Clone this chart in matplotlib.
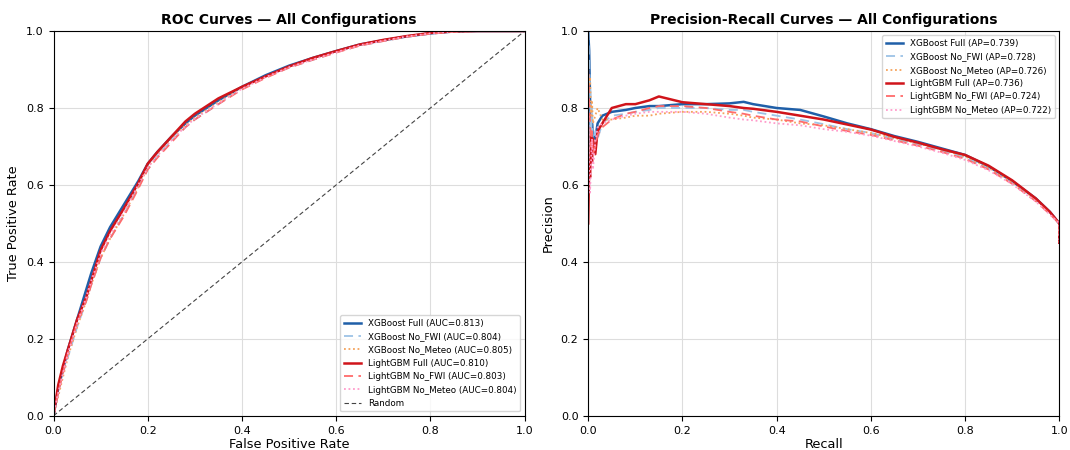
import matplotlib
matplotlib.use('Agg')
import matplotlib.pyplot as plt

# ROC curves
roc_fpr = [0, 0.01, 0.02, 0.03, 0.05, 0.07, 0.08, 0.1, 0.12, 0.15, 0.18, 0.2, 0.22,
           0.25, 0.28, 0.3, 0.35, 0.4, 0.45, 0.5, 0.55, 0.6, 0.65, 0.7, 0.75, 0.8,
           0.85, 0.9, 1.0]
roc_xgb_full = [0, 0.07, 0.12, 0.17, 0.25, 0.33, 0.37, 0.44, 0.49, 0.55, 0.61, 0.655, 0.685,
                0.725, 0.76, 0.78, 0.82, 0.855, 0.885, 0.91, 0.93, 0.948, 0.965, 0.976,
                0.986, 0.994, 0.999, 1.0, 1.0]
roc_xgb_nofwi = [0, 0.06, 0.11, 0.15, 0.23, 0.30, 0.34, 0.41, 0.46, 0.525, 0.595, 0.64, 0.675,
                 0.715, 0.75, 0.77, 0.81, 0.85, 0.88, 0.905, 0.925, 0.945, 0.962, 0.974,
                 0.985, 0.993, 0.998, 1.0, 1.0]
roc_xgb_nometeo = [0, 0.05, 0.10, 0.15, 0.23, 0.30, 0.34, 0.41, 0.46, 0.525, 0.595, 0.645, 0.68,
                   0.72, 0.755, 0.775, 0.815, 0.852, 0.882, 0.907, 0.927, 0.946, 0.963, 0.975,
                   0.986, 0.994, 0.999, 1.0, 1.0]
roc_lgb_full = [0, 0.08, 0.13, 0.17, 0.25, 0.31, 0.35, 0.43, 0.48, 0.54, 0.605, 0.655, 0.685,
                0.725, 0.765, 0.785, 0.825, 0.855, 0.882, 0.908, 0.93, 0.948, 0.965, 0.977,
                0.987, 0.995, 0.999, 1.0, 1.0]
roc_lgb_nofwi = [0, 0.06, 0.11, 0.16, 0.24, 0.30, 0.34, 0.41, 0.46, 0.52, 0.59, 0.64, 0.67,
                 0.71, 0.75, 0.77, 0.81, 0.848, 0.878, 0.905, 0.925, 0.944, 0.962, 0.974,
                 0.985, 0.993, 0.998, 1.0, 1.0]
roc_lgb_nometeo = [0, 0.06, 0.11, 0.16, 0.24, 0.31, 0.35, 0.42, 0.47, 0.53, 0.60, 0.645, 0.675,
                   0.715, 0.752, 0.772, 0.812, 0.85, 0.88, 0.906, 0.926, 0.945, 0.963, 0.975,
                   0.986, 0.994, 0.999, 1.0, 1.0]

# Precision-recall curves
pr_recall = [0, 0.002, 0.004, 0.006, 0.008, 0.01, 0.015, 0.02, 0.03, 0.05, 0.08, 0.1, 0.13,
             0.15, 0.2, 0.25, 0.3, 0.33, 0.35, 0.4, 0.45, 0.5, 0.55, 0.6, 0.65, 0.7, 0.75,
             0.8, 0.85, 0.9, 0.95, 0.98, 1.0, 1.0]
pr_xgb_full = [1.0, 0.95, 0.82, 0.70, 0.76, 0.73, 0.72, 0.76, 0.78, 0.79, 0.795, 0.80, 0.805,
               0.805, 0.81, 0.81, 0.812, 0.816, 0.81, 0.80, 0.795, 0.778, 0.76, 0.745, 0.727,
               0.712, 0.695, 0.678, 0.648, 0.61, 0.565, 0.53, 0.50, 0.45]
pr_xgb_nofwi = [1.0, 0.92, 0.85, 0.72, 0.80, 0.70, 0.74, 0.72, 0.76, 0.78, 0.785, 0.79, 0.795,
                0.80, 0.80, 0.80, 0.795, 0.795, 0.79, 0.78, 0.77, 0.758, 0.745, 0.735, 0.72,
                0.706, 0.69, 0.672, 0.642, 0.605, 0.56, 0.525, 0.50, 0.45]
pr_xgb_nometeo = [0.9, 0.85, 0.88, 0.78, 0.82, 0.76, 0.78, 0.80, 0.77, 0.77, 0.775, 0.78, 0.78,
                  0.785, 0.79, 0.79, 0.785, 0.78, 0.775, 0.77, 0.76, 0.755, 0.745, 0.735, 0.722,
                  0.708, 0.692, 0.674, 0.645, 0.607, 0.562, 0.527, 0.50, 0.45]
pr_lgb_full = [0.5, 0.65, 0.62, 0.73, 0.66, 0.72, 0.68, 0.74, 0.76, 0.80, 0.81, 0.81, 0.82,
               0.83, 0.815, 0.81, 0.805, 0.80, 0.798, 0.79, 0.78, 0.77, 0.757, 0.744, 0.725,
               0.71, 0.693, 0.678, 0.65, 0.612, 0.565, 0.53, 0.50, 0.45]
pr_lgb_nofwi = [0.9, 0.82, 0.76, 0.70, 0.74, 0.68, 0.70, 0.73, 0.75, 0.77, 0.785, 0.79, 0.80,
                0.805, 0.805, 0.80, 0.79, 0.785, 0.78, 0.77, 0.765, 0.752, 0.74, 0.73, 0.716,
                0.702, 0.686, 0.668, 0.64, 0.603, 0.558, 0.524, 0.50, 0.45]
pr_lgb_nometeo = [0.85, 0.62, 0.58, 0.66, 0.72, 0.64, 0.71, 0.75, 0.76, 0.77, 0.78, 0.785, 0.79,
                  0.79, 0.79, 0.785, 0.775, 0.77, 0.768, 0.76, 0.755, 0.745, 0.738, 0.728, 0.714,
                  0.70, 0.684, 0.665, 0.638, 0.602, 0.557, 0.523, 0.50, 0.45]

roc_auc = [0.813, 0.804, 0.805, 0.810, 0.803, 0.804]
pr_ap = [0.739, 0.728, 0.726, 0.736, 0.724, 0.722]

names = ['XGBoost Full', 'XGBoost No_FWI', 'XGBoost No_Meteo',
         'LightGBM Full', 'LightGBM No_FWI', 'LightGBM No_Meteo']
colors = ['#1f5fa8', '#9dc3e6', '#f5a35c', '#d0141a', '#ff6b6b', '#ff9ccb']
styles = ['-', (0, (5, 3)), (0, (1, 1.5)), '-', (0, (5, 3)), (0, (1, 1.5))]
widths = [1.8, 1.3, 1.3, 1.8, 1.3, 1.3]

roc_tpr = [roc_xgb_full, roc_xgb_nofwi, roc_xgb_nometeo, roc_lgb_full, roc_lgb_nofwi, roc_lgb_nometeo]
pr_prec = [pr_xgb_full, pr_xgb_nofwi, pr_xgb_nometeo, pr_lgb_full, pr_lgb_nofwi, pr_lgb_nometeo]

fig, (ax1, ax2) = plt.subplots(1, 2, figsize=(10.7, 4.5), dpi=100)
fig.subplots_adjust(left=0.05, right=0.99, bottom=0.076, top=0.931, wspace=0.135)

for i in range(len(names)):
  ax1.plot(roc_fpr, roc_tpr[i], color=colors[i], ls=styles[i], lw=widths[i],
           label='%s (AUC=%.3f)' % (names[i], roc_auc[i]))
ax1.plot([0, 1], [0, 1], color='#444444', ls=(0, (4, 2.5)), lw=0.8, label='Random')
ax1.set_xlim(0, 1)
ax1.set_ylim(0, 1)
ax1.set_xlabel('False Positive Rate', fontsize=9.3, labelpad=2)
ax1.set_ylabel('True Positive Rate', fontsize=9.3, labelpad=4)
ax1.set_title('ROC Curves — All Configurations', fontsize=10, fontweight='bold', pad=5)
ax1.legend(loc='lower right', fontsize=6.3)

for i in range(len(names)):
  ax2.plot(pr_recall, pr_prec[i], color=colors[i], ls=styles[i], lw=widths[i],
           label='%s (AP=%.3f)' % (names[i], pr_ap[i]))
ax2.set_xlim(0, 1)
ax2.set_ylim(0, 1)
ax2.set_xlabel('Recall', fontsize=9.3, labelpad=2)
ax2.set_ylabel('Precision', fontsize=9.3, labelpad=4)
ax2.set_title('Precision-Recall Curves — All Configurations', fontsize=10, fontweight='bold', pad=5)
ax2.legend(loc='upper right', fontsize=6.3)

for ax in (ax1, ax2):
  ax.grid(True, color='#dddddd', lw=0.8)
  ax.tick_params(labelsize=8)

fig.savefig('out.png')
